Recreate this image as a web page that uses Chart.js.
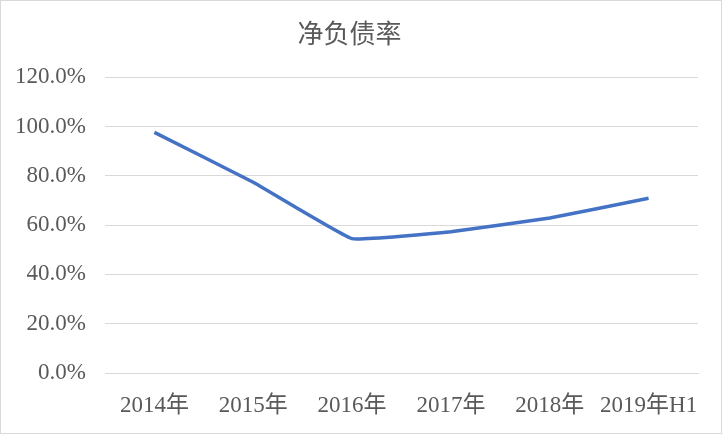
<!DOCTYPE html>
<html>
<head>
<meta charset="utf-8">
<script src="https://cdn.jsdelivr.net/npm/chart.js@4"></script>
<style>
html,body{margin:0;padding:0;background:#fff;}
#wrap{position:relative;width:720px;height:432px;border:1px solid #d9d9d9;}
</style>
</head>
<body>
<div id="wrap"><canvas id="c" width="720" height="432"></canvas></div>
<script>
const title = "净负债率";
const categories = ["2014年", "2015年", "2016年", "2017年", "2018年", "2019年H1"];
const netDebtRatio = [97.6, 77.4, 54.5, 57.3, 62.9, 70.9];
const yTicks = [0, 20, 40, 60, 80, 100, 120];

const tickFont = {family: "'Liberation Serif', 'Noto Sans CJK SC', serif", size: 23};
new Chart(document.getElementById('c'), {
  type: 'line',
  data: {
    labels: categories,
    datasets: [{
      label: title,
      data: netDebtRatio,
      borderColor: '#4472C4',
      borderWidth: 3.5,
      pointRadius: 0,
      tension: 0.08,
      fill: false
    }]
  },
  options: {
    responsive: false,
    animation: false,
    devicePixelRatio: 1,
    layout: {padding: {left: 0, right: 23, top: 0, bottom: 0}},
    plugins: {
      legend: {display: false},
      tooltip: {enabled: false},
      title: {
        display: true,
        text: title,
        color: '#595959',
        font: {family: "'Noto Sans CJK SC', sans-serif", size: 26, weight: 'normal'},
        padding: {top: 17, bottom: 28}
      }
    },
    scales: {
      x: {
        offset: true,
        grid: {display: false},
        border: {display: true, color: '#d9d9d9', width: 1},
        ticks: {color: '#595959', font: tickFont, maxRotation: 0, minRotation: 0, autoSkip: false, padding: 11},
        afterFit: s => { s.height = 60; }
      },
      y: {
        min: 0, max: 120,
        afterBuildTicks: s => { s.ticks = yTicks.map(v => ({value: v})); },
        grid: {color: '#d9d9d9', lineWidth: 1, drawTicks: false},
        border: {display: false},
        ticks: {color: '#595959', font: tickFont, padding: 19,
          callback: v => v.toFixed(1) + '%'},
        afterFit: s => { s.width = 104; }
      }
    }
  }
});
</script>
</body>
</html>
